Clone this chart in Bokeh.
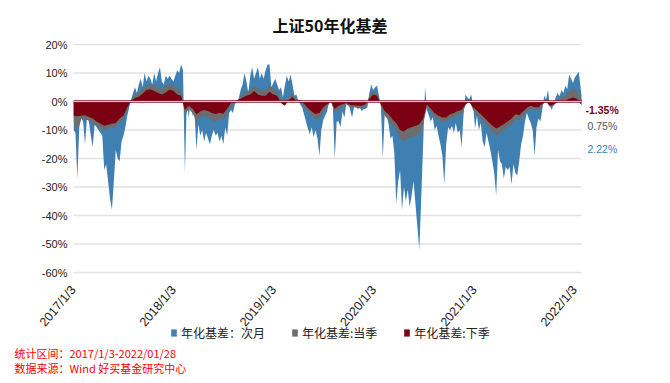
import pandas as pd
from bokeh.plotting import figure
from bokeh.models import (ColumnDataSource, Range1d, FixedTicker, Legend,
                          LegendItem, Label, Title)
from bokeh.embed import file_html
from bokeh.resources import INLINE

START = "2017-01-03"
END = "2022-01-28"

# 年化基差:次月 (weekly samples, %)
blue_vals = [
    -10, -11, -27, -9, -6, -7, -15, -6, -7, -12,
    -16, -8, -9, -10, -11, -12, -24, -22, -28, -34,
    -38, -28, -17, -20, -21, -14, -12, -9, -5, -2,
    0.5, 3, 5, 3, 6, 8, 5, 10, 7, 9,
    8, 6, 10, 7, 10, 12, 7, 6, 9, 8,
    9, 8, 7, 9, 11, 10, 13, 11, -25, 1,
    -6, 1, -5, -4, -17, -8, -12, -10, -14, -11,
    -13, -15, -12, -10, -12, -11, -14, -12, -15, -9,
    -12, -4, -3, -4, -1, 0, 1, 4, 6, 10,
    7, 3, 9, 12, 8, 10, 12, 8, 10, 8,
    11, 13, 13, 5, 6.5, 8, 6, 4, 5, 1.5,
    5.5, 9, 7, 9.5, 6, 2, 2.5, 0.2, -1, -2,
    -4.5, -7, -9.5, -11.5, -9, -12.5, -10, -13, -19, -10,
    -6.5, -5, -3.5, 0, 0.5, -2, -20, -7, -7, -9,
    -3.5, -5.6, -1, 0.8, -3, -5.6, -2, -1.5, -2.7, -2,
    -3.3, -2.7, -2.5, -2, 3, 6, 4, 5, 5.5, 2,
    -1, -20, -4, -5, -8, -13, -12, -18, -36, -28,
    -24, -38, -30, -35, -31, -37, -33, -28, -36, -44,
    -52, -34, -15, 5, -3, -5, -7, -5.5, -10, -8.5,
    -12, -15, -19, -29, -15, -9, -10, -8.5, -11, -7.5,
    -11, -10, -16, -5, 2.5, 1.4, 0.8, 2.5, -1, -9.5,
    -5, -10, -7.5, -14, -16, -11, -14, -17, -21, -25,
    -33, -17, -21, -22, -27, -23, -24, -23, -29, -22,
    -25, -26, -21, -15, -12, -7, -4, -6, -7.5, -10,
    -19, -9, -6, -7, -3, 2, 0.8, 4, -1.5, -3,
    -0.5, 1.4, 3, 1.8, 4, 3, 5.5, 4.3, 9.5, 8,
    6.5, 8.5, 9.5, 10.4, 2.22,
]

# 年化基差:当季 (bi-weekly samples, %)
gray_vals = [
    -7, -10, -6, -6.5, -6.5, -8, -8.5, -9.5, -10, -9.5,
    -9, -9, -7.5, -6, -3, 0.8, 2.5, 3, 4.5, 5.5,
    6, 5.5, 5, 4.5, 5.5, 6, 5.5, 4.5, 4, -5,
    -2.5, -4, -7, -5.5, -5, -5.5, -6.5, -7, -6, -6.5,
    -4, -1.5, -0.5, 1, 2.5, 3.5, 4, 5.5, 4.5, 4,
    4, 5.5, 4.5, 3.5, 0.5, -1, 1.5, 3, 0.8, 0.5,
    -1.5, -3.5, -5, -6, -6, -3.5, -2, 0.3, -4, -3,
    -2, -1, -2, -2, -2.3, -2.5, -1.8, 2, 3.5, 3,
    -1.5, -5, -6.5, -8.5, -10, -13, -14, -13, -12.5, -12,
    -11.5, -8, -2, -3.5, -5.5, -6.5, -7, -7, -6, -5.5,
    -4.5, -4.5, -1.5, 0.5, -3, -4.5, -6, -7.5, -9, -10.5,
    -12, -11, -10, -9, -8, -6.5, -6.5, -5, -3.5, -2.5,
    -3, -3, -1.5, 0.5, -2, -1.5, 0.5, 1.5, 2, 3.5,
    4.3, 4, 0.75,
]

# 年化基差:下季 (bi-weekly samples, %)
red_vals = [
    -5, -5.2, -5, -4.8, -5.4, -6, -7, -7.8, -8.5, -8.2,
    -7.8, -7.5, -6, -5, -2, 0.3, 1.2, 1.7, 2.8, 4,
    4.3, 3.7, 3, 2.5, 3.2, 4.2, 3.8, 2.5, 2, -3,
    -1.5, -2.5, -4.5, -3.5, -3, -3.3, -4, -4.4, -4, -4.3,
    -2.5, -0.5, 0, 0.6, 1.4, 2, 2.5, 3.7, 2.5, 2,
    2, 3.4, 2.5, 2, -0.5, -1.5, 0.5, 1.6, 0, 0.2,
    -0.8, -2.3, -3.5, -4.4, -4, -2, -1, 0, -2.5, -1.5,
    -1, -0.5, -1.2, -1.3, -1.5, -1.5, -1, 1, 2.5, 2,
    -1, -3.3, -4.5, -6.2, -7.5, -10, -10.5, -9.5, -9, -8.5,
    -8, -6, -1, -2.5, -4, -5, -5.6, -5.6, -4.5, -4,
    -3.3, -3, -1, -0.3, -2, -3.2, -4.5, -5.8, -7.2, -8.4,
    -9.5, -8.8, -8, -7, -6, -4.5, -4.8, -3.5, -2.2, -1.5,
    -2, -2, -0.8, -0.2, -1.5, -1, -0.3, 0, 0.3, 1,
    1.4, 1, -1.35,
]

tick_dates = ["2017-01-03", "2018-01-03", "2019-01-03",
              "2020-01-03", "2021-01-03", "2022-01-03"]
tick_labels = ["2017/1/3", "2018/1/3", "2019/1/3",
               "2020/1/3", "2021/1/3", "2022/1/3"]
y_ticks = [-60, -50, -40, -30, -20, -10, 0, 10, 20]
y_tick_labels = ["-60%", "-50%", "-40%", "-30%", "-20%", "-10%", "0%", "10%", "20%"]

series_names = ["年化基差：次月", "年化基差:当季", "年化基差:下季"]
last_labels = ["-1.35%", "0.75%", "2.22%"]
title_text = "上证50年化基差"
footer_lines = ["统计区间：2017/1/3-2022/01/28", "数据来源：Wind  好买基金研究中心"]

BLUE = "#3f7fb2"
GRAY = "#6d6d6d"
RED = "#7a0012"
CJK = "Noto Sans CJK SC"
LAT = "Liberation Sans"


def make_dates(n, step):
    d = list(pd.date_range(START, periods=n, freq=f"{step}D"))
    d[-1] = pd.Timestamp(END)
    return d


blue_src = ColumnDataSource(dict(x=make_dates(len(blue_vals), 7), y=blue_vals))
gray_src = ColumnDataSource(dict(x=make_dates(len(gray_vals), 14), y=gray_vals))
red_src = ColumnDataSource(dict(x=make_dates(len(red_vals), 14), y=red_vals))

# page geometry: frame spans page x 73..625 and y 43..342
FL, FR, FT, FB = 73, 625, 43, 342
PX_PER_DAY = 508 / 1851.0
PX_PER_PCT = 2.85
ZERO_Y = 101
t0 = pd.Timestamp(START)
x_end = t0 + pd.Timedelta(days=(FR - FL) / PX_PER_DAY)
y_top = (ZERO_Y - FT) / PX_PER_PCT
y_bot = (ZERO_Y - FB) / PX_PER_PCT

p = figure(width=670, height=383, x_axis_type="datetime",
           x_range=Range1d(t0, x_end), y_range=Range1d(y_bot, y_top),
           output_backend="svg", toolbar_location=None,
           min_border_top=FT, min_border_left=FL, min_border_right=670 - FR,
           min_border_bottom=383 - FB)
p.outline_line_color = None
p.background_fill_color = "white"
p.xgrid.visible = False
p.ygrid.visible = False

# horizontal gridlines only over the data period
grid_src = ColumnDataSource(dict(x0=[t0] * len(y_ticks),
                                 x1=[pd.Timestamp(END)] * len(y_ticks),
                                 y=y_ticks))
p.segment(x0="x0", y0="y", x1="x1", y1="y", source=grid_src,
          line_color="#e2e2e2", line_width=1.5)

r_blue = p.varea(x="x", y1=0, y2="y", source=blue_src, fill_color=BLUE)
r_gray = p.varea(x="x", y1=0, y2="y", source=gray_src, fill_color=GRAY)
r_red = p.varea(x="x", y1=0, y2="y", source=red_src, fill_color=RED)

zero_src = ColumnDataSource(dict(x0=[t0], x1=[pd.Timestamp(END)], y=[0]))
p.segment(x0="x0", y0="y", x1="x1", y1="y", source=zero_src,
          line_color="#8a1a2a", line_width=2.5)
p.segment(x0="x0", y0="y", x1="x1", y1="y", source=zero_src,
          line_color="#e9c3c8", line_width=1)

tick_ms = [pd.Timestamp(d).value / 1e6 for d in tick_dates]
xa = p.xaxis[0]
xa.ticker = FixedTicker(ticks=tick_ms)
xa.major_label_overrides = dict(zip(tick_ms, tick_labels))
xa.major_label_orientation = 0.87
xa.axis_line_color = None
xa.major_tick_line_color = None
xa.minor_tick_line_color = None
xa.major_tick_out = 0
xa.major_tick_in = 0
xa.major_label_standoff = 287 - FB
xa.major_label_text_font = LAT
xa.major_label_text_font_size = "12.5px"
xa.major_label_text_color = "#222222"

ya = p.yaxis[0]
ya.ticker = FixedTicker(ticks=y_ticks)
ya.major_label_overrides = dict(zip(y_ticks, y_tick_labels))
ya.axis_line_color = None
ya.major_tick_line_color = None
ya.minor_tick_line_color = None
ya.major_tick_out = 0
ya.major_tick_in = 0
ya.major_label_standoff = 6
ya.major_label_text_font = LAT
ya.major_label_text_font_size = "11px"
ya.major_label_text_color = "#222222"

# title
p.title.text = title_text
p.title.align = "left"
p.title.offset = 272 - FL
p.title.standoff = 14
p.title.text_font = CJK
p.title.text_font_size = "16px"
p.title.text_font_style = "bold"
p.title.text_color = "#111111"


def add_text(text, px, py, color, size, font=LAT, style="normal"):
    p.add_layout(Label(x=px - FL, y=FB - py, x_units="screen", y_units="screen",
                       text=text, text_color=color, text_font_size=size,
                       text_font=font, text_align="left", text_baseline="middle",
                       text_font_style=style))


add_text(last_labels[0], 585, 109, RED, "10.5px", style="bold")
add_text(last_labels[1], 587, 125, "#555555", "10.5px")
add_text(last_labels[2], 587, 148, BLUE, "10.5px")

legend = Legend(items=[LegendItem(label=series_names[0], renderers=[r_blue]),
                       LegendItem(label=series_names[1], renderers=[r_gray]),
                       LegendItem(label=series_names[2], renderers=[r_red])],
                orientation="horizontal", location=(170 - FL, FB - 341),
                label_text_font=CJK, label_text_font_size="12px",
                label_text_color="#222222", label_height=14,
                glyph_width=7, glyph_height=9, spacing=26, label_standoff=4,
                border_line_color=None, background_fill_alpha=0,
                padding=0, margin=0)
p.add_layout(legend)

for line, so in zip(footer_lines, [0, -6]):
    p.add_layout(Title(text=line, align="left", offset=14 - FL,
                       text_font=CJK, text_font_size="11px",
                       text_font_style="normal", text_color="#ff0000",
                       standoff=so), "below")

open("out.html", "w").write(file_html(p, INLINE))
